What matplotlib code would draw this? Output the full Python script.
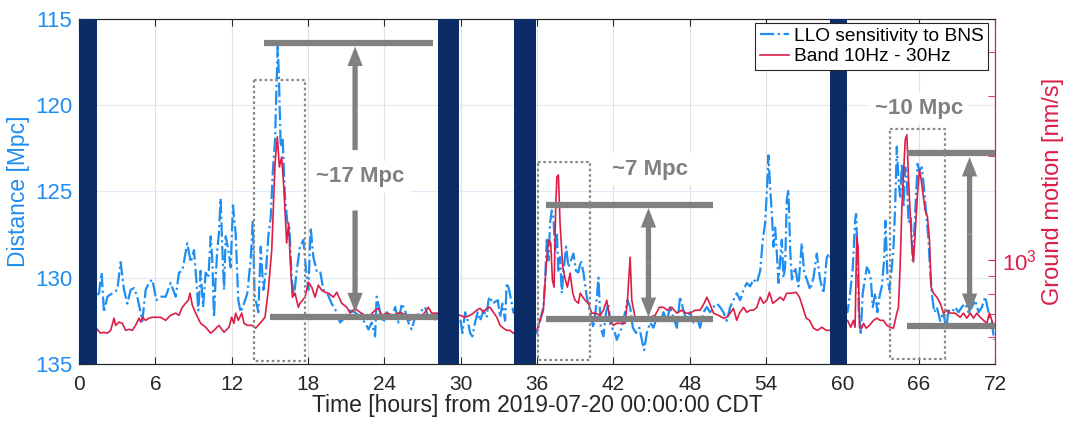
import matplotlib
matplotlib.use("Agg")
import matplotlib.pyplot as plt
from matplotlib.patches import Rectangle
from matplotlib.ticker import FixedLocator, NullFormatter

plt.rcParams.update({
    "font.family": ["Liberation Sans", "DejaVu Sans"],
    "mathtext.fontset": "custom",
    "mathtext.rm": "Liberation Sans",
    "mathtext.it": "Liberation Sans:italic",
})

# LLO BNS range [Mpc] vs time [h]
blue_t = [
    1.45, 1.57, 1.78, 1.96, 2.23, 2.62, 3.01, 3.27, 3.54, 3.80, 4.06, 4.32, 4.58, 4.98,
    5.24, 5.50, 5.76, 6.08, 6.42, 6.81, 7.20, 7.60, 7.86, 8.12, 8.51, 8.78, 9.04, 9.22,
    9.38, 9.56, 9.75, 9.96, 10.17, 10.35, 10.48, 10.61, 10.74, 10.87, 11.00, 11.13,
    11.27, 11.40, 11.53, 11.74, 11.92, 12.10, 12.31, 12.52, 12.71, 12.97, 13.23, 13.49,
    13.66, 13.80, 14.10, 14.28, 14.49, 14.70, 14.88, 15.07, 15.23, 15.41, 15.54, 15.62,
    15.72, 15.85, 16.01, 16.19, 16.38, 16.54, 16.72, 16.90, 17.11, 17.37, 17.64, 17.85,
    18.03, 18.21, 18.42, 18.68, 18.95, 19.21, 19.52, 19.86, 20.26, 20.52, 20.91, 21.30,
    21.70, 22.09, 22.49, 22.75, 23.01, 23.27, 23.40, 23.67, 23.93, 24.19, 24.58, 24.85,
    25.11, 25.37, 25.63, 25.89, 26.15, 26.41, 26.81, 27.20, 27.46, 27.86, 28.12,
    29.95, 30.14, 30.35, 30.56, 30.74, 30.92, 31.13, 31.34, 31.52, 31.79, 32.05, 32.18,
    32.31, 32.50, 32.70, 32.92, 33.10, 33.28, 33.49, 33.62, 33.81, 34.02, 34.14,
    35.98, 36.24, 36.50, 36.64, 36.77, 36.90, 37.03, 37.16, 37.29, 37.42, 37.56, 37.68,
    37.81, 37.95, 38.07, 38.29, 38.47, 38.66, 38.86, 39.07, 39.25, 39.44, 39.65, 39.91,
    40.17, 40.43, 40.64, 40.83, 41.01, 41.22, 41.43, 41.61, 41.80, 42.06, 42.27, 42.48,
    42.66, 42.92, 43.11, 43.32, 43.53, 43.79, 44.05, 44.24, 44.42, 44.63, 44.89, 45.15,
    45.42, 45.68, 45.94, 46.20, 46.46, 46.72, 46.99, 47.25, 47.51, 47.77, 48.03, 48.30,
    48.56, 48.82, 49.08, 49.35, 49.61, 49.87, 50.13, 50.39, 50.65, 50.92, 51.18, 51.44,
    51.70, 51.97, 52.23, 52.49, 52.75, 53.01, 53.28, 53.54, 53.75, 53.93, 54.06, 54.19,
    54.32, 54.46, 54.59, 54.72, 54.85, 54.98, 55.11, 55.24, 55.37, 55.50, 55.63, 55.76,
    55.90, 56.03, 56.29, 56.55, 56.81, 57.00, 57.21, 57.47, 57.73, 57.99, 58.25, 58.52,
    58.78, 58.99,
    60.40, 60.61, 60.82, 61.00, 61.08, 61.19, 61.29, 61.45, 61.60, 61.77, 61.92, 62.08,
    62.24, 62.39, 62.58, 62.76, 62.92, 63.10, 63.28, 63.39, 63.55, 63.71, 63.89, 64.02,
    64.15, 64.28, 64.41, 64.54, 64.68, 64.81, 64.94, 65.07, 65.20, 65.38, 65.54, 65.72,
    65.91, 66.06, 66.25, 66.43, 66.59, 66.77, 66.90, 67.03, 67.22, 67.43, 67.69, 67.95,
    68.16, 68.34, 68.61, 68.87, 69.13, 69.39, 69.66, 69.92, 70.18, 70.44, 70.71, 70.97,
    71.23, 71.49, 71.75, 71.93,
]
blue_mpc = [
    131.0, 130.9, 129.7, 132.0, 131.1, 130.9, 130.7, 129.1, 130.7, 131.5, 130.7, 130.6, 131.1, 132.5,
    130.7, 130.3, 130.1, 131.3, 131.1, 131.1, 130.3, 131.1, 129.7, 129.6, 128.0, 129.1, 128.4, 130.1,
    131.9, 129.6, 131.7, 129.7, 130.0, 127.6, 129.0, 132.3, 130.0, 128.4, 127.4, 125.4,
    128.4, 130.7, 127.6, 128.4, 129.4, 125.8, 127.4, 131.3, 132.0, 131.5, 130.9, 129.0,
    126.7, 131.0, 132.0, 128.2, 130.7, 129.6, 127.6, 126.5, 123.9, 122.0, 118.5, 116.6,
    118.5, 122.4, 122.0, 125.3, 126.8, 127.1, 130.1, 131.1, 129.6, 128.2, 127.8, 129.6,
    130.7, 127.1, 128.8, 129.6, 129.6, 130.7, 130.9, 131.5, 132.0, 132.6, 132.3, 131.9,
    132.0, 132.3, 132.6, 133.0, 132.6, 133.4, 131.1, 132.0, 132.6, 132.0, 132.3, 131.7,
    132.6, 131.5, 131.9, 132.6, 133.0, 132.3, 132.0, 131.7, 132.3, 132.5, 132.3,
    132.3, 133.2, 132.0, 132.5, 133.2, 133.4, 132.6, 132.0, 132.5, 131.9, 132.3, 131.3,
    131.1, 131.5, 131.4, 131.3, 132.3, 131.5, 132.5, 130.3, 130.7, 131.5, 132.0,
    133.2, 132.5, 131.7, 130.1, 127.8, 129.0, 126.8, 126.1, 126.5, 128.4, 127.4, 129.7,
    128.8, 130.9, 129.7, 128.2, 129.4, 129.0, 128.6, 129.6, 129.7, 129.0, 129.7, 131.1,
    132.0, 132.9, 131.7, 130.0, 132.9, 133.4, 132.0, 131.5, 132.9, 133.0, 133.6, 133.2,
    132.9, 132.0, 131.3, 131.7, 132.9, 133.2, 132.9, 133.6, 134.2, 133.2, 132.6, 132.9,
    132.3, 132.6, 132.0, 132.5, 131.7, 132.3, 132.9, 131.1, 131.9, 132.5, 132.0, 132.6,
    132.3, 132.9, 132.0, 131.7, 132.0, 131.7, 131.5, 131.7, 132.0, 132.5, 131.7, 131.3,
    130.9, 131.3, 130.7, 130.3, 130.5, 130.1, 130.3, 129.6, 127.8, 126.8, 125.1, 122.9,
    124.7, 126.3, 128.2, 127.1, 128.6, 130.3, 129.0, 127.8, 130.0, 129.4, 125.5, 124.9,
    128.4, 130.1, 129.4, 130.5, 128.0, 129.7, 130.1, 130.7, 130.0, 128.6, 130.1, 130.9,
    128.8, 128.6,
    132.0, 130.9, 129.4, 126.7, 126.3, 128.6, 132.0, 133.2, 130.9, 130.1, 129.4, 129.6,
    130.1, 131.7, 130.9, 132.0, 131.1, 130.5, 129.0, 126.7, 130.1, 130.7, 129.4, 128.2,
    125.9, 122.4, 124.3, 125.3, 123.4, 125.9, 123.6, 124.3, 126.8, 126.5, 129.1, 126.3,
    123.4, 123.8, 123.6, 124.9, 126.3, 127.8, 129.6, 130.9, 132.0, 131.7, 132.5, 132.0,
    133.0, 131.9, 132.0, 131.7, 132.0, 131.7, 131.5, 132.0, 131.7, 131.3, 132.0, 131.7,
    131.1, 132.0, 132.6, 133.6,
]

# ground motion, band 10-30 Hz [nm/s]
red_t = [
    0.00, 0.50, 1.00, 1.49, 1.70, 1.96, 2.23, 2.49, 2.75, 2.88, 3.14, 3.41, 3.67, 3.93,
    4.19, 4.45, 4.72, 4.85, 4.98, 5.24, 5.50, 5.76, 6.08, 6.42, 6.81, 7.20, 7.60, 7.86,
    8.12, 8.38, 8.59, 8.72, 8.91, 9.17, 9.56, 9.96, 10.35, 10.61, 11.00, 11.40, 11.79,
    12.00, 12.18, 12.31, 12.52, 12.79, 12.97, 13.23, 13.62, 13.88, 14.23, 14.62, 14.88,
    15.15, 15.41, 15.59, 15.75, 15.93, 16.11, 16.32, 16.48, 16.59, 16.77, 16.98, 17.24,
    17.37, 17.77, 18.03, 18.29, 18.55, 18.81, 19.08, 19.34, 19.60, 20.00, 20.26, 20.65,
    21.05, 21.31, 21.70, 22.09, 22.48, 22.88, 23.27, 23.53, 23.80, 24.18, 24.71, 25.24,
    25.76, 26.02, 26.42, 26.81, 27.20, 27.46, 27.72, 28.12,
    29.95, 30.35, 30.74, 31.00, 31.26, 31.52, 31.79, 32.05, 32.31, 32.57, 32.84, 33.10,
    33.36, 33.62, 33.88, 34.14,
    35.98, 36.24, 36.50, 36.71, 36.90, 37.08, 37.21, 37.34, 37.47, 37.56, 37.68, 37.81,
    38.02, 38.24, 38.39, 38.60, 38.81, 38.99, 39.25, 39.39, 39.78, 40.04, 40.30, 40.57,
    40.96, 41.22, 41.48, 41.75, 42.01, 42.27, 42.53, 42.92, 43.11, 43.32, 43.45, 43.71,
    44.10, 44.50, 44.89, 45.28, 45.62, 45.94, 46.25, 46.59, 46.99, 47.38, 47.72, 48.03,
    48.43, 48.82, 49.14, 49.35, 49.56, 49.87, 50.26, 50.65, 50.92, 51.18, 51.44, 51.70,
    51.91, 52.23, 52.49, 52.75, 53.01, 53.28, 53.54, 53.80, 54.06, 54.27, 54.53, 54.85,
    55.11, 55.37, 55.63, 56.03, 56.37, 56.63, 56.89, 57.16, 57.42, 57.73, 58.05, 58.39,
    58.73, 58.99,
    60.40, 60.66, 60.87, 61.00, 61.13, 61.24, 61.34, 61.53, 61.66, 61.87, 62.13, 62.45,
    62.71, 62.97, 63.23, 63.50, 63.76, 64.02, 64.28, 64.41, 64.54, 64.68, 64.81, 64.94,
    65.07, 65.20, 65.33, 65.46, 65.59, 65.75, 65.91, 66.06, 66.17, 66.33, 66.51, 66.69,
    66.85, 66.98, 67.16, 67.43, 67.69, 67.95, 68.21, 68.47, 68.87, 69.26, 69.52, 69.78,
    70.05, 70.31, 70.57, 70.83, 71.10, 71.36, 71.56, 71.75, 71.93,
]
red_v = [
    818, 720, 660, 626, 614, 618, 614, 626, 679, 647, 661, 656, 626, 630,
    626, 647, 679, 661, 683, 669, 679, 683, 683, 683, 669, 692, 702, 692,
    730, 750, 765, 802, 740, 702, 656, 639, 614, 626, 647, 618, 639,
    683, 656, 702, 669, 702, 656, 647, 647, 635, 656, 683, 818,
    1069, 1912, 2276, 1862, 1991, 1597, 1121, 1281, 1020, 781, 802, 730,
    750, 781, 863, 835, 781, 846, 818, 807, 802, 781, 807, 750,
    730, 702, 725, 706, 692, 692, 716, 725, 692, 702, 692, 706,
    692, 669, 692, 683, 706, 730, 702, 702,
    692, 683, 692, 702, 716, 725, 706, 725, 730, 706, 683, 647,
    635, 626, 626, 614,
    626, 669, 716, 954, 1143, 1121, 875, 835, 1426, 1743, 1766, 1281,
    954, 875, 835, 917, 802, 765, 750, 802, 765, 750, 702, 702,
    692, 716, 765, 669, 647, 656, 656, 656, 765, 1020, 765, 683,
    669, 683, 683, 692, 730, 730, 716, 730, 702, 716, 702, 702,
    716, 716, 750, 781, 750, 702, 692, 679, 683, 702, 725, 669,
    702, 730, 706, 716, 716, 730, 781, 750, 765, 807, 750, 765,
    781, 765, 802, 802, 807, 781, 730, 679, 669, 635, 626, 639,
    626, 626,
    669, 639, 669, 639, 1166, 1091, 639, 635, 656, 635, 647, 669,
    679, 669, 669, 647, 639, 635, 702, 730, 954, 1425, 1789, 2231,
    2307, 1708, 1369, 1091, 987, 1247, 1565, 1826, 1742, 1565, 1397, 1333,
    1143, 835, 802, 781, 750, 702, 716, 702, 702, 683, 702, 679,
    702, 679, 702, 683, 669, 656, 702, 669, 635,
]

# lock-loss periods [h]
band_start = [0.0, 28.25, 34.2, 59.05]
band_end = [1.45, 29.85, 35.9, 60.35]

# range-drop annotations (Mpc)
drop_text = ["~17 Mpc", "~7 Mpc", "~10 Mpc"]
drop_high = [116.37, 125.78, 122.79]
drop_low = [132.3, 132.39, 132.78]

BLUE = "#1f8ef1"
RED = "#dc1e46"
NAVY = "#0b2c66"
GREY = "#808080"


def arrow(ax_draw, ax_data, x, y_from, y_to):
    ax_draw.annotate(
        "", xy=(x, y_to), xytext=(x, y_from),
        xycoords=ax_data.transData, textcoords=ax_data.transData,
        arrowprops=dict(arrowstyle="simple,head_length=0.7,head_width=0.55,tail_width=0.19",
                        mutation_scale=20, fc=GREY, ec="none", shrinkA=0, shrinkB=0),
        zorder=4,
    )


def main() -> None:
    fig = plt.figure(figsize=(10.69, 4.23), dpi=100)
    ax = fig.add_axes([0.0739, 0.1395, 0.8569, 0.8156])
    ax2 = ax.twinx()

    ax.plot(blue_t, blue_mpc, color=BLUE, lw=1.6, ls="-.", label="LLO sensitivity to BNS")
    ax2.plot(red_t, red_v, color=RED, lw=1.2, label="Band 10Hz - 30Hz", zorder=2)

    ax.set_xlim(0, 72)
    ax.set_ylim(135, 115)
    ax.set_xticks(range(0, 73, 6))
    ax.set_yticks([115, 120, 125, 130, 135])
    ax.set_axisbelow(True)
    ax.xaxis.grid(True, color="#e0e0e0", lw=0.8)
    ax.yaxis.grid(True, color="#e1eaf7", lw=0.8)

    ax2.set_yscale("log")
    ax2.set_ylim(500, 5000)
    ax2.yaxis.set_major_locator(FixedLocator([1000]))
    ax2.yaxis.set_minor_locator(FixedLocator([600, 700, 800, 900, 2000, 3000, 4000]))
    ax2.yaxis.set_minor_formatter(NullFormatter())

    ax.tick_params(axis="x", direction="in", top=True, length=5, colors="#262626",
                   labelsize=15, pad=8)
    ax.tick_params(axis="y", direction="in", length=5, colors=BLUE, labelsize=16, pad=5)
    ax2.tick_params(axis="y", which="both", direction="in", length=5, colors=RED,
                    labelsize=16, pad=5)

    for a in (ax, ax2):
        a.spines["top"].set_color("#262626")
        a.spines["bottom"].set_color("#262626")
        a.spines["left"].set_color(BLUE)
        a.spines["right"].set_color(RED)
        for s in a.spines.values():
            s.set_linewidth(0.8)

    ax.set_xlabel("Time [hours] from 2019-07-20 00:00:00 CDT", fontsize=16.5, color="#262626")
    ax.set_ylabel("Distance [Mpc]", fontsize=16.5, color=BLUE)
    ax2.set_ylabel("Ground motion [nm/s]", fontsize=17, color=RED)
    ax.yaxis.set_label_coords(-0.054, 0.5)
    ax2.yaxis.set_label_coords(1.051, 0.5)
    ax.xaxis.set_label_coords(0.5, -0.088)

    # lock-loss bands on top of the curves
    for a, b in zip(band_start, band_end):
        ax2.axvspan(a, b, color=NAVY, lw=0, zorder=3)

    # annotation bars
    bar_x = [(14.54, 27.8, 15.0, 28.2), (36.71, 49.87, 36.71, 49.87), (65.1, 72.0, 65.1, 72.0)]
    for (hx0, hx1, lx0, lx1), yh, yl in zip(bar_x, drop_high, drop_low):
        ax2.plot([hx0, hx1], [yh, yh], transform=ax.transData, color=GREY, lw=4.5,
                 solid_capstyle="butt", zorder=4)
        ax2.plot([lx0, lx1], [yl, yl], transform=ax.transData, color=GREY, lw=4.5,
                 solid_capstyle="butt", zorder=4)

    # dotted boxes around the events
    boxes = [(13.76, 17.79, 118.54, 134.81), (36.1, 40.17, 123.27, 134.77),
             (63.76, 68.08, 121.4, 134.73)]
    for x0, x1, y0, y1 in boxes:
        ax2.add_patch(Rectangle((x0, y0), x1 - x0, y1 - y0, transform=ax.transData,
                                fill=False, ec="#8a8a8a", lw=1.6, ls=(0, (1.2, 1.2)),
                                zorder=4))

    # arrows
    arrow(ax2, ax, 21.7, 122.6, 116.6)
    arrow(ax2, ax, 21.7, 126.1, 132.0)
    arrow(ax2, ax, 44.76, 129.1, 125.96)
    arrow(ax2, ax, 44.76, 129.1, 132.28)
    arrow(ax2, ax, 70.0, 127.5, 123.0)
    arrow(ax2, ax, 70.0, 127.5, 132.04)

    text_pos = [(22.1, 124.14), (44.9, 123.71), (66.0, 120.18)]
    for (tx, ty), s in zip(text_pos, drop_text):
        ax2.text(tx, ty, s, transform=ax.transData, fontsize=16, fontweight="bold",
                 color=GREY, ha="center", va="center", zorder=5,
                 bbox=dict(fc="white", ec="none", pad=4))

    ax2.set_ylim(500, 5000)
    ax.set_xlim(0, 72)

    h1, l1 = ax.get_legend_handles_labels()
    h2, l2 = ax2.get_legend_handles_labels()
    leg = ax2.legend(h1 + h2, l1 + l2, loc="upper right", bbox_to_anchor=(0.9924, 0.9884),
                     borderaxespad=0, fancybox=False, edgecolor="#262626", framealpha=1,
                     fontsize=13.8, handlelength=1.5, handletextpad=0.25, borderpad=0.25,
                     labelspacing=0.15)
    leg.get_frame().set_linewidth(0.8)
    leg.set_zorder(10)

    fig.savefig("out.png", dpi=100)
    plt.close(fig)


if __name__ == "__main__":
    main()
